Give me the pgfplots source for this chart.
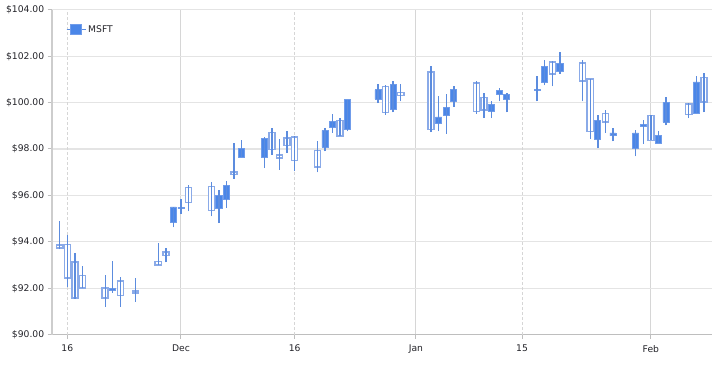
\documentclass[border=0pt]{standalone}
\usepackage{pgfplots}
\pgfplotsset{compat=1.18}
\usepackage{pgfplotstable}
\usepackage{fontspec}
\setmainfont{DejaVu Sans}
\definecolor{fillblue}{RGB}{74,134,232}
\definecolor{filledge}{RGB}{112,156,234}
\definecolor{edgeblue}{RGB}{138,170,232}
\definecolor{wickblue}{RGB}{92,140,222}
\definecolor{gridgray}{RGB}{228,228,228}
\definecolor{vgrid}{RGB}{214,214,214}
\definecolor{textcol}{RGB}{34,34,40}
\definecolor{axisgray}{RGB}{190,190,190}
\definecolor{yaxisgray}{RGB}{205,205,205}

% d = days after 16 Nov; o h l c
\pgfplotstableread{
d o h l c
-1 93.73 94.88 93.68 93.86
0 92.44 94.31 92.05 93.88
1 91.58 93.52 91.54 93.13
2 92.00 92.97 92.00 92.54
5 91.58 92.58 91.19 92.01
6 91.97 93.16 91.80 91.92
7 91.68 92.49 91.19 92.30
9 91.80 92.44 91.41 91.88
12 93.01 93.95 93.01 93.16
13 93.41 93.73 93.11 93.56
14 95.50 95.50 94.62 94.84
15 95.48 95.85 95.20 95.43
16 95.70 96.46 95.31 96.35
19 95.35 96.58 95.10 96.39
20 95.99 96.22 94.81 95.46
21 96.43 96.62 95.46 95.82
22 96.89 98.26 96.71 97.01
23 98.03 98.40 97.64 97.64
26 98.44 98.52 97.18 97.65
27 97.97 98.90 97.75 98.71
28 97.61 98.43 97.11 97.75
29 98.14 98.76 97.83 98.47
30 97.50 98.56 97.04 98.52
33 97.22 98.33 96.99 97.93
34 98.80 98.90 97.90 98.07
35 99.19 99.51 98.71 98.95
36 98.57 99.33 98.57 99.22
37 100.12 100.12 98.76 98.83
41 100.55 100.81 99.98 100.15
42 99.58 100.77 99.48 100.70
43 100.77 100.95 99.58 99.69
44 100.31 100.81 100.05 100.44
48 98.83 101.59 98.73 101.32
49 99.38 100.27 98.76 99.12
50 99.79 100.37 98.65 99.45
51 100.58 100.73 99.83 100.05
54 99.62 100.91 99.52 100.84
55 99.69 100.41 99.33 100.22
56 99.91 100.05 99.33 99.62
57 100.52 100.63 100.05 100.37
58 100.34 100.41 99.58 100.15
62 100.58 101.16 100.05 100.52
63 101.56 101.85 100.74 100.89
64 101.23 101.78 100.70 101.75
65 101.70 102.20 101.23 101.34
68 100.94 101.85 100.05 101.70
69 98.76 101.01 98.43 101.01
70 99.22 99.48 98.04 98.43
71 99.16 99.69 98.71 99.52
72 98.69 98.90 98.33 98.57
75 98.69 98.80 97.68 98.04
76 99.04 99.23 98.23 98.99
77 98.37 99.45 98.37 99.45
78 98.58 98.76 98.26 98.26
79 100.01 100.22 99.02 99.16
82 99.48 99.98 99.33 99.95
83 100.89 101.13 99.55 99.55
84 100.02 101.27 99.58 101.08
}\candles

\begin{document}
\begin{tikzpicture}
\useasboundingbox (0,0) rectangle (725bp,368bp);
\begin{axis}[
  at={(51.7bp,33.4bp)}, anchor=south west,
  scale only axis, width=660bp, height=324.8bp,
  xmin=-2.06, xmax=85.03, ymin=90, ymax=104,
  enlargelimits=false,
  ybar stacked, bar width=0.8,
  axis x line*=bottom, axis y line*=left,
  x axis line style={-, draw=axisgray, line width=1.3bp},
  y axis line style={-, draw=yaxisgray, line width=2bp},
  ytick={90,92,...,104},
  yticklabel={\$\pgfmathprintnumber[fixed,fixed zerofill,precision=2]{\tick}},
  /pgf/number format/assume math mode=true,
  xtick={15,46,77}, xticklabels={Dec,Jan,Feb},
  extra x ticks={0,30,60}, extra x tick labels={16,16,15},
  extra x tick style={xmajorgrids=true, major grid style={draw=gridgray, line width=0.9bp, dash pattern=on 3bp off 2bp}},
  ymajorgrids, xmajorgrids,
  y grid style={draw=gridgray, line width=1.2bp},
  x grid style={draw=vgrid, line width=1bp},
  tick align=outside, major tick length=4bp,
  tick style={draw=axisgray, line width=1bp},
  tick label style={text=textcol, font=\fontsize{9.2bp}{11bp}\selectfont},
  xticklabel style={yshift=-3bp},
  legend style={at={(rel axis cs:0.0217,0.9385)}, anchor=west, draw=none, fill=none,
     inner sep=0pt, outer sep=0pt, nodes={inner sep=2bp},
     font=\fontsize{9.2bp}{11bp}\selectfont, text=textcol},
]
% base up to the low, carrying the wick as an error bar
\addplot[fill=none, draw=none, forget plot,
  error bars/.cd, y dir=plus, y explicit, error mark=none,
  error bar style={draw=wickblue, line width=1.4bp}]
  table[x=d, y=l, y error expr=\thisrow{h}-\thisrow{l}] {\candles};
% invisible gap from the low to the bottom of the body
\addplot[fill=none, draw=none, forget plot]
  table[x=d, y expr={min(\thisrow{o},\thisrow{c})-\thisrow{l}}] {\candles};
% hollow bodies (close above open)
\addplot[fill=white, draw=edgeblue, line width=1.5bp, forget plot]
  table[x=d, y expr={(\thisrow{c}>\thisrow{o}) ? (\thisrow{c}-\thisrow{o}) : 0}] {\candles};
% filled bodies (close below open)
\addplot[fill=fillblue, draw=filledge, line width=0.8bp,
  legend image code/.code={
    \draw[wickblue, line width=1.2bp] (0bp,0bp) -- (19bp,0bp);
    \filldraw[fill=fillblue, draw=filledge, line width=0.8bp] (4bp,-5bp) rectangle (15bp,5bp);}]
  table[x=d, y expr={(\thisrow{c}<\thisrow{o}) ? (\thisrow{o}-\thisrow{c}) : 0}] {\candles};
\addlegendentry{MSFT}
\end{axis}
\end{tikzpicture}
\end{document}
